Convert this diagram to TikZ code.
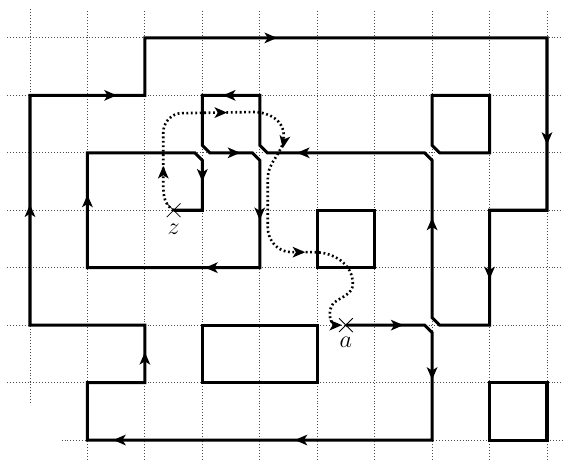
\documentclass[tikz,border=0pt]{standalone}
\usetikzlibrary{positioning}
\newcommand{\tipat}[2]{\fill[shift={(#1)},rotate=#2] (0,0) -- (-0.22,0.095) -- (-0.16,0) -- (-0.22,-0.095) -- cycle;}
\tikzset{
  gridline/.style={densely dotted,black!70,line width=0.45pt},
  route/.style={line width=1.5pt},
  detour/.style={line width=1.3pt,dash pattern=on 0.9pt off 1.3pt},
  xmark/.style={line width=0.4pt}
}
\begin{document}
\begin{tikzpicture}
	\useasboundingbox (-0.522,-0.366) rectangle (9.279,7.66);
	\clip (-0.522,-0.366) rectangle (9.279,7.66);
	% grid
	\foreach \i in {1,...,9} \draw[gridline] (\i,-0.5) -- (\i,7.5);
	\draw[gridline] (0,0.65) -- (0,7.5);
	\foreach \j in {1,...,7} \draw[gridline] (-0.4,\j) -- (9.4,\j);
	\draw[gridline] (0.55,0) -- (9.4,0);
	\coordinate (z) at (2.5,4);
	\coordinate (a) at (5.5,2);
	% closed blocks
	\draw[route] (5,3) rectangle (6,4);
	\draw[route] (3,1) rectangle (5,2);
	\draw[route] (8,0) rectangle (9,1);
	\draw[route] (7,5.13) -- (7,6) -- (8,6) -- (8,5) -- (7.13,5) -- cycle;
	% trail from a to z
	\draw[route] (a) -- (6.87,2) -- (7,1.87) -- (7,0) -- (1,0) -- (1,1) -- (2,1) -- (2,2) -- (0,2)
		-- (0,6) -- (2,6) -- (2,7) -- (9,7) -- (9,4) -- (8,4) -- (8,2) -- (7.13,2) -- (7,2.13)
		-- (7,4.87) -- (6.87,5) -- (4.13,5) -- (4,5.13) -- (4,6) -- (3,6) -- (3,5.13) -- (3.13,5)
		-- (3.87,5) -- (4,4.87) -- (4,3) -- (1,3) -- (1,5) -- (2.87,5) -- (3,4.87) -- (3,4) -- (z);
	\tipat{6.5,2}{0}
	\tipat{7,1.05}{-90}
	\tipat{4.61,0}{180}
	\tipat{1.45,0}{180}
	\tipat{2,1.53}{90}
	\tipat{0,4.1}{90}
	\tipat{1.51,6}{0}
	\tipat{4.3,7}{0}
	\tipat{9,5.14}{-90}
	\tipat{8,2.8}{-90}
	\tipat{7,3.87}{90}
	\tipat{4.65,5}{180}
	\tipat{3.36,6}{180}
	\tipat{3.66,5}{0}
	\tipat{4,3.83}{-90}
	\tipat{3.05,3}{180}
	\tipat{1,4.27}{90}
	\tipat{3,4.5}{-90}
	% dotted detour from z to a
	\draw[detour] (z) to[out=150,in=-90] (2.32,4.45) -- (2.32,5.35) to[out=90,in=180] (2.65,5.69)
		-- (3.9,5.71) to[out=0,in=90] (4.42,5.3) to[out=-90,in=90] (4.14,4.55) -- (4.14,3.7)
		to[out=-90,in=180] (4.55,3.27) -- (4.95,3.27) to[out=0,in=90] (5.62,2.72)
		to[out=-90,in=40] (5.28,2.38) to[out=-130,in=180] (5.35,2);
	\tipat{2.32,4.77}{90}
	\tipat{3.43,5.7}{0}
	\tipat{4.4,5.08}{-100}
	\tipat{4.79,3.27}{0}
	\tipat{5.43,2}{0}
	% crossings at z and a
	\draw[xmark] (z) ++(-0.12,-0.12) -- ++(0.24,0.24) (z) ++(-0.12,0.12) -- ++(0.24,-0.24);
	\draw[xmark] (a) ++(-0.12,-0.12) -- ++(0.24,0.24) (a) ++(-0.12,0.12) -- ++(0.24,-0.24);
	\node[below=0.12cm of z] (zlab) {\large$z$};
	\node[below=0.08cm of a] (alab) {\large$a$};
\end{tikzpicture}
\end{document}
